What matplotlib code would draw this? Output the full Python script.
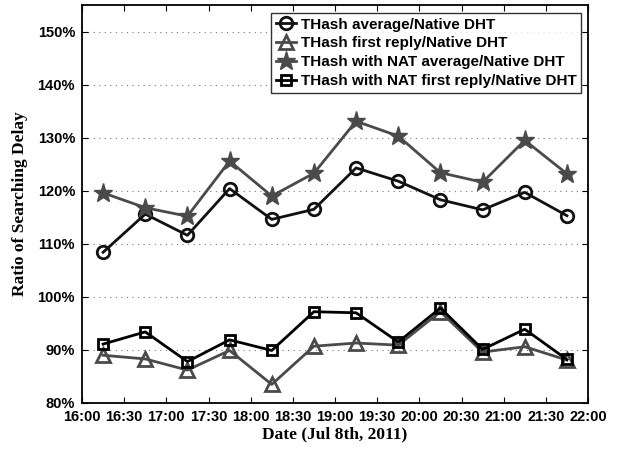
import matplotlib
matplotlib.use("Agg")
import matplotlib.pyplot as plt
import numpy as np

# ---- data ----
times = ["16:15", "16:45", "17:15", "17:45", "18:15", "18:45",
         "19:15", "19:45", "20:15", "20:45", "21:15", "21:45"]
thash_avg = [108.4, 115.6, 111.6, 120.4, 114.6, 116.5, 124.3, 121.8, 118.3, 116.4, 119.7, 115.3]
thash_first = [89.0, 88.3, 86.2, 89.9, 83.5, 90.7, 91.3, 90.9, 97.2, 89.6, 90.6, 88.1]
thash_nat_avg = [119.6, 116.8, 115.2, 125.6, 119.0, 123.3, 133.1, 130.3, 123.4, 121.6, 129.5, 123.2]
thash_nat_first = [91.1, 93.4, 87.8, 91.9, 89.9, 97.2, 97.0, 91.5, 97.9, 90.1, 93.9, 88.2]
xtick_labels = ["16:00", "16:30", "17:00", "17:30", "18:00", "18:30", "19:00",
                "19:30", "20:00", "20:30", "21:00", "21:30", "22:00"]
ytick_values = [80, 90, 100, 110, 120, 130, 140, 150]
labels = ["THash average/Native DHT", "THash first reply/Native DHT",
          "THash with NAT average/Native DHT", "THash with NAT first reply/Native DHT"]


def to_min(s):
    h, m = s.split(":")
    return int(h) * 60 + int(m) - 16 * 60


x = np.array([to_min(t) for t in times])
xt = np.array([to_min(t) for t in xtick_labels])

fig = plt.figure(figsize=(6.18, 4.51), dpi=100)
ax = fig.add_axes([82 / 618, 48 / 451, (588 - 82) / 618, (403 - 5) / 451])

black = "#111111"
gray = "#4a4a4a"
lw = 2.0

ax.plot(x, thash_avg, color=black, lw=lw, marker="o", ms=9, mfc="none",
        mec=black, mew=2.0, label=labels[0], zorder=3)
ax.plot(x, thash_first, color=gray, lw=lw, marker="^", ms=10, mfc="none",
        mec=gray, mew=2.0, label=labels[1], zorder=3)
ax.plot(x, thash_nat_avg, color=gray, lw=lw, marker="*", ms=14, mfc=gray,
        mec=gray, mew=1.0, label=labels[2], zorder=3)
ax.plot(x, thash_nat_first, color="black", lw=lw, marker="s", ms=7, mfc="none",
        mec="black", mew=2.0, label=labels[3], zorder=4)

ax.set_xlim(0, 360)
ax.set_ylim(80, 155)
ax.set_xticks(xt)
ax.set_xticklabels(xtick_labels, fontfamily="Liberation Sans", fontweight="bold", fontsize=10.5)
ax.set_yticks(ytick_values)
ax.set_yticklabels([f"{v}%" for v in ytick_values], fontfamily="Liberation Sans",
                   fontweight="bold", fontsize=10.5)
ax.tick_params(direction="in", top=True, right=True, length=4, width=0.8)
ax.tick_params(axis="x", pad=5)
ax.tick_params(axis="y", pad=5)
ax.yaxis.grid(True, linestyle=(0, (1, 4)), color="#777777", lw=0.8)
ax.set_axisbelow(True)
for sp in ax.spines.values():
    sp.set_linewidth(1.3)
    sp.set_color("black")

ax.set_xlabel("Date (Jul 8th, 2011)", fontfamily="Liberation Serif", fontweight="bold",
              fontsize=12.5, labelpad=2)
ax.set_ylabel("Ratio of Searching Delay", fontfamily="Liberation Serif", fontweight="bold",
              fontsize=12.5, labelpad=7)

leg = ax.legend(loc="upper right", bbox_to_anchor=(0.987, 0.98),
                prop={"family": "Liberation Sans", "weight": "bold", "size": 11},
                frameon=True, fancybox=False, edgecolor="black", handlelength=1.3,
                handletextpad=0.35, borderpad=0.3, labelspacing=0.32, borderaxespad=0)
leg.get_frame().set_linewidth(1.0)

fig.savefig("out.png", dpi=100)
